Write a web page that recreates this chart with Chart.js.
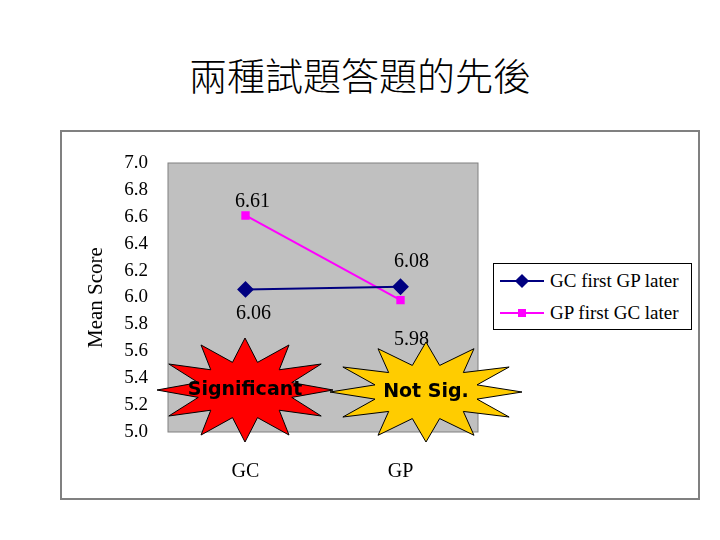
<!DOCTYPE html>
<html lang="en">
<head>
<meta charset="UTF-8">
<title>兩種試題答題的先後</title>
<style>
    body{ margin:0; width:720px; height:540px; background:#fff; position:relative; overflow:hidden; }
    #title{ position:absolute; left:0; top:46px; width:720px; text-align:center; font:300 38px "Noto Sans CJK TC", serif; color:#000; }
    #frame{ position:absolute; left:60px; top:130px; width:636px; height:366px; border:2px solid #808080; }
    #wrap{ position:absolute; left:60px; top:130px; width:638px; height:368px; }
    #legend{ position:absolute; left:493px; top:263px; width:197px; height:65px; border:1px solid #000; background:#fff;
        font:19px "Liberation Serif", serif; }
    .row{ position:absolute; left:6px; display:flex; align-items:center; }
    .sw{ width:44px; height:2px; position:relative; margin-right:6px; }
    .mk{ position:absolute; left:50%; top:50%; }
</style>
</head>
<body>
<div id="title">兩種試題答題的先後</div>
<div id="frame"></div>
<div id="wrap"><canvas id="chart" width="638" height="368"></canvas></div>
<div id="legend">
    <div class="row" style="top:6px"><div class="sw" style="background:#000080"><div class="mk" style="width:10px;height:10px;background:#000080;transform:translate(-50%,-50%) rotate(45deg)"></div></div>GC first GP later</div>
    <div class="row" style="top:38px"><div class="sw" style="background:#ff00ff"><div class="mk" style="width:8px;height:8px;background:#ff00ff;transform:translate(-50%,-50%)"></div></div>GP first GC later</div>
</div>
<script src="https://cdn.jsdelivr.net/npm/chart.js"></script>
<script>
    const categories = ["GC", "GP"];
    const gcFirst = [6.06, 6.08];
    const gpFirst = [6.61, 5.98];
    const seriesNames = ["GC first GP later", "GP first GC later"];

    // value labels + starbursts
    const extras = {
        id: 'extras',
        beforeDraw(chart){
            const a = chart.chartArea, c = chart.ctx;
            c.save();
            c.fillStyle = '#c0c0c0';
            c.fillRect(a.left, a.top, a.right - a.left, a.bottom - a.top);
            c.strokeStyle = '#808080';
            c.strokeRect(a.left, a.top, a.right - a.left, a.bottom - a.top);
            c.restore();
        },
        afterDatasetsDraw(chart){
            const c = chart.ctx;
            c.save();
            c.font = '20px "Liberation Serif", serif';
            c.fillStyle = '#000';
            c.textAlign = 'center';
            const m0 = chart.getDatasetMeta(0).data, m1 = chart.getDatasetMeta(1).data;
            c.fillText(gcFirst[0].toFixed(2), m0[0].x + 8, m0[0].y + 30);
            c.fillText(gcFirst[1].toFixed(2), m0[1].x + 11, m0[1].y - 20);
            c.fillText(gpFirst[0].toFixed(2), m1[0].x + 7, m1[0].y - 8);
            c.fillText(gpFirst[1].toFixed(2), m1[1].x + 11, m1[1].y + 45);

            function star(cx, cy, rx, ry, n, fill, text){
                c.beginPath();
                for (let i = 0; i < n * 2; i++){
                    const ang = Math.PI * i / n - Math.PI / 2;
                    const f = i % 2 ? 0.55 : 1;
                    const px = cx + Math.cos(ang) * rx * f, py = cy + Math.sin(ang) * ry * f;
                    i ? c.lineTo(px, py) : c.moveTo(px, py);
                }
                c.closePath();
                c.fillStyle = fill; c.fill();
                c.strokeStyle = '#000'; c.lineWidth = 1; c.stroke();
                c.fillStyle = '#000';
                c.font = 'bold 19px "DejaVu Sans", sans-serif';
                c.textBaseline = 'middle';
                c.fillText(text, cx, cy);
            }
            star(185, 260, 88, 52, 12, '#ff0000', 'Significant');
            star(366, 262, 96, 50, 12, '#ffcc00', 'Not Sig.');
            c.restore();
        }
    };

    new Chart(document.getElementById('chart'), {
        type: 'line',
        data: {
            labels: categories,
            datasets: [{
                label: seriesNames[0], data: gcFirst,
                borderColor: '#000080', backgroundColor: '#000080', borderWidth: 2,
                pointStyle: 'rectRot', pointRadius: 7
            }, {
                label: seriesNames[1], data: gpFirst,
                borderColor: '#ff00ff', backgroundColor: '#ff00ff', borderWidth: 2,
                pointStyle: 'rect', pointRadius: 4.5
            }]
        },
        plugins: [extras],
        options: {
            responsive: false, animation: false,
            layout: { padding: { top: 33, right: 220, bottom: 6, left: 20 } },
            plugins: { legend: { display: false }, tooltip: { enabled: false } },
            scales: {
                x: {
                    offset: true,
                    grid: { display: false },
                    border: { display: false },
                    ticks: { color: '#000', font: { family: '"Liberation Serif", serif', size: 20 }, padding: 20 },
                    afterFit(s){ s.height = 60; }
                },
                y: {
                    min: 5.0, max: 7.0,
                    grid: { display: false },
                    border: { display: false },
                    ticks: { stepSize: 0.2, autoSkip: false, color: '#000', padding: 12,
                        font: { family: '"Liberation Serif", serif', size: 19 },
                        callback: v => v.toFixed(1) },
                    title: { display: true, text: 'Mean Score', color: '#000',
                        font: { family: '"Liberation Serif", serif', size: 21 } },
                    afterFit(s){ s.width = 88; }
                }
            }
        }
    });
</script>
</body>
</html>
